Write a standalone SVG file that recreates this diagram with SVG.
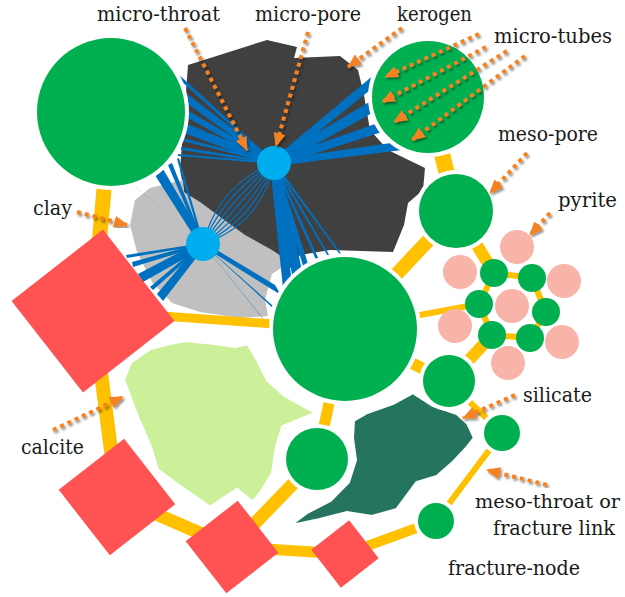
<svg xmlns="http://www.w3.org/2000/svg" width="625" height="597" viewBox="0 0 625 597">
  <style>
    .lbl { font-family: 'DejaVu Serif', 'Liberation Serif', serif; font-size: 20px; fill: #1a1a1a; }
    .ptr { fill: none; stroke: #F58220; stroke-width: 4; stroke-dasharray: 4 4; marker-end: url(#head); filter: url(#shade); }
    .throat { stroke: #FFC000; stroke-linecap: butt; fill: none; }
    .micro { fill: #0070C0; }
    .arc { stroke: #0070C0; fill: none; stroke-width: 1.2; }
    .pore { fill: #00B050; stroke: #FFFFFF; stroke-width: 8; paint-order: stroke; }
    .ring { fill: #00B050; }
    .pyr { fill: #F8B4A8; }
    .frac { fill: #FF5353; }
    .mpore { fill: #00AEEF; }
  </style>
  <defs>
    <marker id="head" markerUnits="userSpaceOnUse" markerWidth="14" markerHeight="12" refX="13" refY="6" orient="auto">
      <path d="M0,0 L14,6 L0,12 z" fill="#F58220"/>
    </marker>
    <filter id="shade" x="-20%" y="-20%" width="140%" height="140%">
      <feDropShadow dx="1.5" dy="2" stdDeviation="1" flood-color="#000" flood-opacity="0.45"/>
    </filter>
  </defs>

  <!-- mineral / organic matter regions -->
  <g id="kerogen">
    <polygon fill="#404040" points="188,65 267,40 297,47 294,58 340,56 358,70 364,95 370,130 388,150 425,168 423,190 408,203 404,225 393,252 330,250 300,255 290,268 270,262 250,242 215,222 185,196 180,170"/>
  </g>
  <g id="clay">
    <polygon fill="#C0C0C0" points="135,200 150,188 183,180 184,192 200,202 245,235 272,250 290,262 272,274 265,300 268,316 240,318 200,312 172,303 152,282 137,252 130,225"/>
  </g>
  <g id="calcite">
    <polygon fill="#CCF09A" stroke="#FFFFFF" stroke-width="4" points="123,380 130,362 150,348 170,343 185,340 215,343 235,346 248,343 258,360 268,380 285,395 317,413 283,427 277,447 273,473 263,490 253,503 237,490 210,508 180,487 157,470 150,447 137,417"/>
  </g>
  <g id="silicate">
    <polygon fill="#24745F" stroke="#FFFFFF" stroke-width="4" points="287,527 307,512 330,500 348,482 355,460 352,438 353,420 367,412 393,403 413,392 433,405 457,413 468,423 475,438 468,447 453,463 437,477 417,483 397,510 372,517 347,513 320,520"/>
  </g>

  <!-- connectors: micro-throats (blue) and meso-throats / fracture links (yellow) -->
  <g id="connectors">
    <g class="micro">
      <!-- micro-pore A to upper-left pore -->
      <polygon points="272,159.5 176,72 181,81 276,166.5"/>
      <polygon points="273,159 183,91 185,102 275,167"/>
      <polygon points="273.5,160 185,109 186,117 274.5,166"/>
      <polygon points="274.5,159.5 185,123 184,133 273.5,166.5"/>
      <polygon points="274,162 183,138 183,141 274,164"/>
      <polygon points="274,162 181,147 181,150 274,164"/>
      <polygon points="274,162 178,154 178,156 274,164"/>
      <!-- micro-pore A to upper-right pore -->
      <polygon points="272,160 375,74 380,82 276,166"/>
      <polygon points="272.5,159 371,101 374,112 275.5,167"/>
      <polygon points="272,160 378,123 382,132 276,166"/>
      <polygon points="272,160 398,142 402,150 276,166"/>
      <!-- micro-pore A to central pore -->
      <polygon points="270,165 283,288 292,284 278,161"/>
      <polygon points="270,165 293,279 303,275 278,161"/>
      <polygon points="272,164 304,269 309,267 276,162"/>
      <polygon points="273,163.5 317,262 320,262 275,162.5"/>
      <polygon points="273,163.5 329,258 331,258 275,162.5"/>
      <polygon points="273,163.5 341,256 343,256 275,162.5"/>
      <!-- micro-pore B to upper-left pore -->
      <polygon points="200,241.5 127,179 135,186 206,246.5"/>
      <polygon points="199.5,245 153,172 163,169 206.5,243"/>
      <polygon points="202,244.5 168,165 172,163 204,243.5"/>
      <polygon points="202,244.5 177,159 179,158 204,243.5"/>
      <!-- micro-pore B to fracture node -->
      <polygon points="203,243 126,255 127,258 203,245"/>
      <polygon points="203,242.5 132,262 133,267 203,245.5"/>
      <polygon points="201,241 138,274 143,282 205,247"/>
      <polygon points="202,243 150,287 153,290 204,245"/>
      <polygon points="201,241.5 157,294 163,301 205,246.5"/>
      <!-- micro-pore B to central pore -->
      <polygon points="201,240.5 275,285 281,295 205,247.5"/>
      <polygon points="202,243 272,305 275,310 204,245"/>
      <polygon points="202.5,243.5 267,324 269,326 203.5,244.5"/>
    </g>
    <!-- curved micro-throats between the two micro-pores -->
    <g class="arc">
      <path d="M274,163 Q218,185 203,244"/>
      <path d="M274,163 Q225,192 203,244"/>
      <path d="M274,163 Q232,199 203,244"/>
      <path d="M274,163 Q240,205 203,244"/>
      <path d="M274,163 Q248,212 203,244"/>
      <path d="M274,163 Q255,218 203,244"/>
      <path d="M274,163 Q262,224 203,244"/>
    </g>
    <g class="throat">
      <line x1="111" y1="112" x2="93" y2="311" stroke-width="15"/>
      <line x1="93" y1="311" x2="117" y2="497" stroke-width="14"/>
      <line x1="93" y1="311" x2="345" y2="329" stroke-width="9"/>
      <line x1="117" y1="497" x2="232" y2="547" stroke-width="13"/>
      <line x1="232" y1="547" x2="317" y2="459" stroke-width="13"/>
      <line x1="232" y1="547" x2="345" y2="554" stroke-width="11"/>
      <line x1="345" y1="554" x2="436" y2="521" stroke-width="10"/>
      <line x1="436" y1="521" x2="502" y2="433" stroke-width="6"/>
      <line x1="502" y1="433" x2="449" y2="382" stroke-width="6"/>
      <line x1="449" y1="382" x2="345" y2="329" stroke-width="12"/>
      <line x1="345" y1="329" x2="317" y2="459" stroke-width="11"/>
      <line x1="345" y1="329" x2="456" y2="211" stroke-width="14"/>
      <line x1="456" y1="211" x2="428" y2="97" stroke-width="16"/>
      <line x1="456" y1="211" x2="494" y2="273" stroke-width="12"/>
      <line x1="449" y1="382" x2="492" y2="335" stroke-width="12"/>
      <line x1="345" y1="329" x2="479" y2="304" stroke-width="6"/>
      <polyline points="494,273 532,278 546,312 530,338 492,335 479,304 494,273" stroke-width="6"/>
    </g>
  </g>

  <!-- meso-pores -->
  <g id="pore-upper-left"><circle class="pore" cx="111" cy="112" r="74"/></g>
  <g id="pore-upper-right"><circle class="pore" cx="428" cy="97" r="56"/></g>
  <g id="pore-mid-right"><circle class="pore" cx="456" cy="211" r="37"/></g>
  <g id="pore-center"><circle class="pore" cx="345" cy="329" r="72"/></g>
  <g id="pore-lower-right"><circle class="pore" cx="449" cy="381" r="26"/></g>
  <g id="pore-lower"><circle class="pore" cx="317" cy="459" r="31"/></g>
  <g id="pore-right"><circle class="pore" cx="502" cy="433" r="18"/></g>
  <g id="pore-bottom-right"><circle class="pore" cx="436" cy="521" r="18"/></g>

  <!-- micro-pores -->
  <g id="micro-pore-a"><circle class="mpore" cx="274" cy="163" r="17"/></g>
  <g id="micro-pore-b"><circle class="mpore" cx="203" cy="244" r="17"/></g>

  <!-- pyrite framboid with its ring of pores -->
  <g id="pyrite">
    <circle class="pyr" cx="517" cy="247" r="17"/>
    <circle class="pyr" cx="460" cy="272" r="17"/>
    <circle class="pyr" cx="564" cy="281" r="17"/>
    <circle class="pyr" cx="512" cy="306" r="17"/>
    <circle class="pyr" cx="455" cy="326" r="17"/>
    <circle class="pyr" cx="562" cy="342" r="17"/>
    <circle class="pyr" cx="508" cy="363" r="17"/>
  </g>
  <g id="ring-1"><circle class="ring" cx="494" cy="273" r="14"/></g>
  <g id="ring-2"><circle class="ring" cx="532" cy="278" r="14"/></g>
  <g id="ring-3"><circle class="ring" cx="546" cy="312" r="14"/></g>
  <g id="ring-4"><circle class="ring" cx="530" cy="338" r="14"/></g>
  <g id="ring-5"><circle class="ring" cx="492" cy="335" r="14"/></g>
  <g id="ring-6"><circle class="ring" cx="479" cy="304" r="14"/></g>

  <!-- fracture nodes -->
  <g id="fracture-1"><rect class="frac" x="-58" y="-58" width="116" height="116" transform="translate(93,311) rotate(52)"/></g>
  <g id="fracture-2"><rect class="frac" x="-41.5" y="-41.5" width="83" height="83" transform="translate(117,497) rotate(52)"/></g>
  <g id="fracture-3"><rect class="frac" x="-33" y="-33" width="66" height="66" transform="translate(232,547) rotate(52)"/></g>
  <g id="fracture-4"><rect class="frac" x="-24" y="-24" width="48" height="48" transform="translate(345,554) rotate(52)"/></g>

  <!-- callout pointers -->
  <g id="pointers">
    <line class="ptr" x1="185" y1="28" x2="247" y2="150"/>
    <line class="ptr" x1="308" y1="32" x2="276" y2="146"/>
    <line class="ptr" x1="402" y1="28" x2="348" y2="67"/>
    <line class="ptr" x1="479" y1="34" x2="385" y2="77"/>
    <line class="ptr" x1="486" y1="47" x2="382" y2="102"/>
    <line class="ptr" x1="507" y1="51" x2="394" y2="122"/>
    <line class="ptr" x1="525" y1="56" x2="412" y2="140"/>
    <line class="ptr" x1="527" y1="153" x2="490" y2="193"/>
    <line class="ptr" x1="550" y1="213" x2="530" y2="235"/>
    <line class="ptr" x1="77" y1="212" x2="127" y2="225"/>
    <line class="ptr" x1="53" y1="430" x2="123" y2="397"/>
    <line class="ptr" x1="515" y1="395" x2="463" y2="418"/>
    <line class="ptr" x1="547" y1="485" x2="487" y2="470"/>
    <line class="ptr" x1="435" y1="568" x2="372" y2="568"/>
  </g>

  <!-- labels -->
  <g id="labels">
    <text class="lbl" x="97" y="21" textLength="123" lengthAdjust="spacingAndGlyphs">micro-throat</text>
    <text class="lbl" x="255" y="21" textLength="106" lengthAdjust="spacingAndGlyphs">micro-pore</text>
    <text class="lbl" x="397" y="21" textLength="75" lengthAdjust="spacingAndGlyphs">kerogen</text>
    <text class="lbl" x="494" y="43" textLength="118" lengthAdjust="spacingAndGlyphs">micro-tubes</text>
    <text class="lbl" x="498" y="141" textLength="100" lengthAdjust="spacingAndGlyphs">meso-pore</text>
    <text class="lbl" x="558" y="207" textLength="59" lengthAdjust="spacingAndGlyphs">pyrite</text>
    <text class="lbl" x="33" y="215" textLength="39" lengthAdjust="spacingAndGlyphs">clay</text>
    <text class="lbl" x="21" y="454" textLength="63" lengthAdjust="spacingAndGlyphs">calcite</text>
    <text class="lbl" x="523" y="402" textLength="69" lengthAdjust="spacingAndGlyphs">silicate</text>
    <text class="lbl" x="475" y="508" textLength="145" lengthAdjust="spacingAndGlyphs" style="font-size:19px">meso-throat or</text>
    <text class="lbl" x="493" y="535" textLength="122" lengthAdjust="spacingAndGlyphs">fracture link</text>
    <text class="lbl" x="448" y="575" textLength="132" lengthAdjust="spacingAndGlyphs">fracture-node</text>
  </g>
</svg>
